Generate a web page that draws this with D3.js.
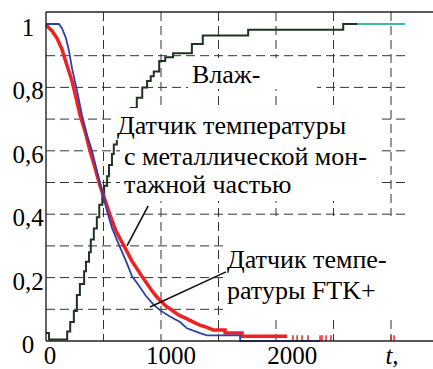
<!DOCTYPE html>
<html>
<head>
<meta charset="utf-8">
<script src="https://cdn.jsdelivr.net/npm/d3@7"></script>
</head>
<body style="margin:0">
<svg id="chart" width="433" height="369" font-family="serif" style="display:block;font-family:serif"></svg>
<script>
// humidity sensor, step curve  [t, value]
const humidity = [
  [0, 0.025], [25, 0.005], [165, 0.005], [175, 0.03], [200, 0.06], [230, 0.095],
  [255, 0.145], [280, 0.18], [315, 0.22], [330, 0.25], [355, 0.28], [370, 0.32],
  [395, 0.355], [420, 0.39], [440, 0.43], [465, 0.46], [480, 0.49], [505, 0.52],
  [520, 0.555], [545, 0.59], [560, 0.62], [585, 0.66], [620, 0.68], [645, 0.70],
  [700, 0.735], [750, 0.767], [795, 0.80], [835, 0.82], [865, 0.835], [890, 0.85],
  [935, 0.883], [985, 0.895], [1050, 0.908], [1205, 0.937], [1295, 0.964],
  [1670, 0.982], [2455, 1.0], [2575, 1.0]
]
const humidityTail = [[2575, 1.0], [2965, 1.0]]

// sensor with metal mounting part (red)
const redSensor = [
  [0, 0.997], [50, 0.978], [91, 0.955], [132, 0.92], [173, 0.87], [215, 0.82],
  [248, 0.767], [281, 0.713], [322, 0.662], [363, 0.6], [405, 0.546], [446, 0.49],
  [487, 0.445], [529, 0.397], [578, 0.347], [644, 0.30], [710, 0.252], [785, 0.208],
  [859, 0.167], [892, 0.15], [925, 0.135], [958, 0.122], [991, 0.11],
  [1030, 0.1], [1066, 0.09], [1105, 0.08], [1148, 0.073], [1190, 0.065], [1231, 0.057],
  [1270, 0.05], [1314, 0.045], [1380, 0.035], [1479, 0.035], [1479, 0.025],
  [1619, 0.025], [1619, 0.015], [1991, 0.015]
]
const redSpikes = [2040, 2074, 2115, 2164, 2264, 2280, 2313, 2354, 2850, 2875]

// FTK+ sensor (blue)
const blueSensor = [
  [0, 1.0], [107, 1.0], [132, 0.987], [165, 0.955], [190, 0.915], [215, 0.86],
  [256, 0.79], [297, 0.713], [339, 0.65], [380, 0.6], [421, 0.536], [463, 0.473],
  [504, 0.41], [545, 0.357], [603, 0.303], [661, 0.252], [710, 0.205], [768, 0.174],
  [826, 0.142], [892, 0.113], [950, 0.095], [1024, 0.077], [1107, 0.06], [1165, 0.04],
  [1272, 0.025], [1330, 0.018], [1603, 0.018], [1603, 0], [2264, 0]
]

const xTicks = [0, 1000, 2000]
const yTicks = [0, 0.2, 0.4, 0.6, 0.8, 1]
const yTickLabels = ["0", "0,2", "0,4", "0,6", "0,8", "1"]
const xGrid = [475, 950, 1425, 1900, 2375, 2850]
const yGrid = [0.1, 0.2, 0.3, 0.4, 0.5, 0.6, 0.7, 0.8, 0.9]

const width = 433, height = 369
const svg = d3.select("#chart")

const x = d3.scaleLinear().domain([0, 3200]).range([46, 433.4])
const y = d3.scaleLinear().domain([0, 1]).range([341, 24])
const yTop = y(1.038)

// grid
const grid = svg.append("g").attr("stroke", "#333").attr("stroke-width", 1)
  .attr("stroke-dasharray", "9,5")
grid.selectAll(".gx").data(xGrid).join("line")
  .attr("x1", d => x(d)).attr("x2", d => x(d))
  .attr("y1", yTop).attr("y2", y(0))
grid.selectAll(".gy").data(yGrid).join("line")
  .attr("x1", x(0)).attr("x2", x(2990))
  .attr("y1", d => y(d)).attr("y2", d => y(d))

// curves
const lineStep = d3.line().x(d => x(d[0])).y(d => y(d[1])).curve(d3.curveStepAfter)
const lineLin = d3.line().x(d => x(d[0])).y(d => y(d[1]))

svg.append("path").datum(humidity).attr("d", lineStep)
  .attr("fill", "none").attr("stroke", "#1f3320").attr("stroke-width", 2)
svg.append("path").datum(humidityTail).attr("d", lineLin)
  .attr("fill", "none").attr("stroke", "#3fb8a8").attr("stroke-width", 2)

svg.append("path").datum(redSensor).attr("d", lineLin)
  .attr("fill", "none").attr("stroke", "#ee2222").attr("stroke-width", 3.5)
svg.selectAll(".spike").data(redSpikes).join("line")
  .attr("x1", d => x(d)).attr("x2", d => x(d))
  .attr("y1", y(0)).attr("y2", y(0.018))
  .attr("stroke", "#ee2222").attr("stroke-width", 1.5)

svg.append("path").datum(blueSensor).attr("d", lineLin)
  .attr("fill", "none").attr("stroke", "#2f3fb0").attr("stroke-width", 1.8)

// frame
const frame = svg.append("g").attr("stroke", "#222").attr("stroke-width", 1.4)
frame.append("line").attr("x1", x(0)).attr("x2", width).attr("y1", yTop).attr("y2", yTop)
frame.append("line").attr("x1", x(0)).attr("x2", width).attr("y1", y(0)).attr("y2", y(0))
frame.append("line").attr("x1", x(0)).attr("x2", x(0)).attr("y1", yTop).attr("y2", y(0))

// tick labels
svg.selectAll(".xl").data(xTicks).join("text")
  .attr("x", d => x(d) + 4).attr("y", 364)
  .attr("text-anchor", "middle")
  .attr("font-family", "serif").attr("font-size", 25)
  .text(d => d)
svg.append("text").attr("x", x(2850) + 1).attr("y", 364)
  .attr("text-anchor", "middle").attr("font-style", "italic")
  .attr("font-family", "serif").attr("font-size", 25)
  .text("t,")
svg.selectAll(".yl").data(yTicks).join("text")
  .attr("x", 28).attr("y", d => y(d) + 12)
  .attr("text-anchor", "middle")
  .attr("font-family", "serif").attr("font-size", 25)
  .text((d, i) => yTickLabels[i])

// annotations with white backing
const boxes = [
  [188, 58, 317, 89],
  [113, 108, 382, 140], [120, 140, 382, 170], [120, 170, 382, 201],
  [224, 216, 412, 318]
]
svg.selectAll(".box").data(boxes).join("rect")
  .attr("x", d => d[0]).attr("y", d => d[1])
  .attr("width", d => d[2] - d[0]).attr("height", d => d[3] - d[1])
  .attr("fill", "#fff")

const labels = [
  ["Влаж-", 192, 83],
  ["Датчик температуры", 117, 134],
  ["с металлической мон-", 124, 165],
  ["тажной частью", 124, 193],
  ["Датчик темпе-", 227, 268],
  ["ратуры FTK+", 227, 299]
]
svg.selectAll(".ann").data(labels).join("text")
  .attr("x", d => d[1]).attr("y", d => d[2])
  .attr("font-family", "serif").attr("font-size", 26)
  .text(d => d[0])

// leader lines [t1, v1, t2, v2]
const leaders = [[669, 0.30, 844, 0.426], [859, 0.107, 1487, 0.218]]
svg.selectAll(".lead").data(leaders).join("line")
  .attr("x1", d => x(d[0])).attr("y1", d => y(d[1]))
  .attr("x2", d => x(d[2])).attr("y2", d => y(d[3]))
  .attr("stroke", "#111").attr("stroke-width", 1.6)
</script>
</body>
</html>
